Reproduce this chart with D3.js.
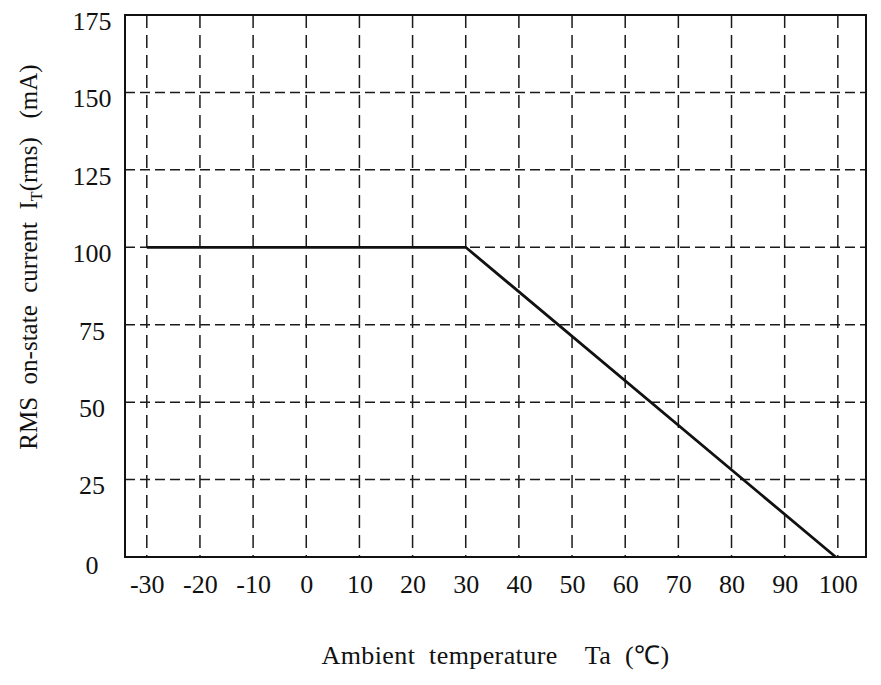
<!DOCTYPE html>
<html>
<head>
<meta charset="utf-8">
<script src="https://cdn.jsdelivr.net/npm/d3@7"></script>
<style>
  html, body { margin: 0; padding: 0; background: #fff; }
  svg text { font-family: "Liberation Serif", "Times New Roman", serif; fill: #111; }
</style>
</head>
<body>
<svg id="chart" width="881" height="685"></svg>
<script>
// Data
const temperature = [-30, 30, 99.6];          // Ambient temperature Ta (°C)
const current = [100, 100, 0];                // RMS on-state current IT(rms) (mA)
const xTicks = [-30, -20, -10, 0, 10, 20, 30, 40, 50, 60, 70, 80, 90, 100];
const yTicks = [0, 25, 50, 75, 100, 125, 150, 175];

const svg = d3.select("#chart");
const pLeft = 125, pRight = 866, pTop = 15, pBottom = 557;

const x = d3.scaleLinear().domain([-34.1, 105.3]).range([pLeft, pRight]);
const y = d3.scaleLinear().domain([0, 175]).range([pBottom, pTop]);

// Grid
const grid = svg.append("g").attr("stroke", "#1a1a1a").attr("stroke-width", 1.5).attr("fill", "none");
grid.selectAll("line.v").data(xTicks).join("line")
  .attr("class", "v")
  .attr("x1", d => x(d)).attr("x2", d => x(d))
  .attr("y1", pTop).attr("y2", pBottom)
  .attr("stroke-dasharray", "13,7");
grid.selectAll("line.h").data(yTicks.filter(d => d > 0 && d < 175)).join("line")
  .attr("class", "h")
  .attr("y1", d => y(d)).attr("y2", d => y(d))
  .attr("x1", pLeft).attr("x2", pRight)
  .attr("stroke-dasharray", "10,5");

// Frame
svg.append("rect")
  .attr("x", pLeft).attr("y", pTop)
  .attr("width", pRight - pLeft).attr("height", pBottom - pTop)
  .attr("fill", "none").attr("stroke", "#111").attr("stroke-width", 2);

const fmt = d => String(d);

// Axes via d3 (lines hidden, labels styled)
const xAxis = svg.append("g").attr("transform", `translate(0,${pBottom})`)
  .call(d3.axisBottom(x).tickValues(xTicks).tickSize(0).tickPadding(18).tickFormat(fmt));
xAxis.select(".domain").remove();
xAxis.selectAll("text").attr("font-size", 26).attr("font-family", "Liberation Serif").attr("fill", "#111");

const yAxis = svg.append("g").attr("transform", `translate(${pLeft},0)`)
  .call(d3.axisLeft(y).tickValues(yTicks).tickSize(0).tickPadding(0).tickFormat(fmt));
yAxis.select(".domain").remove();
yAxis.selectAll("text")
  .attr("font-size", 26).attr("font-family", "Liberation Serif").attr("fill", "#111")
  .attr("text-anchor", "middle").attr("x", -33)
  .attr("dy", d => d === 0 ? "0.62em" : "0.55em");

// Curve
const line = d3.line().x((d, i) => x(temperature[i])).y((d, i) => y(current[i]));
svg.append("path")
  .datum(temperature)
  .attr("d", line)
  .attr("fill", "none").attr("stroke", "#111").attr("stroke-width", 2.8);

// X title
svg.append("text")
  .attr("x", (pLeft + pRight) / 2).attr("y", 664)
  .attr("text-anchor", "middle").attr("font-size", 26)
  .attr("letter-spacing", 0.4)
  .attr("xml:space", "preserve")
  .text("Ambient  temperature    Ta  (\u2103)");

// Y title
const yt = svg.append("text")
  .attr("transform", "translate(37,257) rotate(-90)")
  .attr("text-anchor", "middle").attr("font-size", 25)
  .attr("xml:space", "preserve");
yt.append("tspan").text("RMS  on-state  current  I");
yt.append("tspan").attr("font-size", 16).attr("dy", 5).text("T");
yt.append("tspan").attr("dy", -5).text("(rms)   (mA)");
</script>
</body>
</html>
